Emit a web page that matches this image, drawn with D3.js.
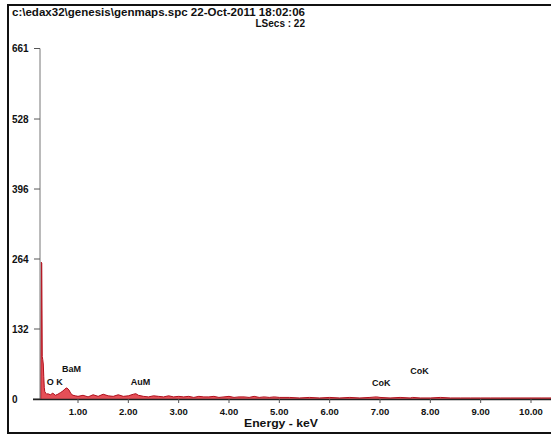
<!DOCTYPE html>
<html>
<head>
<meta charset="utf-8">
<script src="https://cdn.jsdelivr.net/npm/d3@7"></script>
<style>
  body { margin: 0; background: #fff; }
  svg { display: block; }
  text { font-family: 'Liberation Sans', Arial, sans-serif; font-weight: bold; fill: #111; }
</style>
</head>
<body>
<div class="chart"></div>
<script>
'use strict'

const width = 551
const height = 436

// spectrum (keV, counts)
const energies = [
  0.26, 0.27, 0.28, 0.29, 0.30, 0.31, 0.32, 0.33, 0.34, 0.36, 0.38, 0.40, 0.45, 0.50, 0.55,
  0.60, 0.65, 0.70, 0.74, 0.78, 0.82, 0.86, 0.90, 0.95, 1.00, 1.10, 1.20, 1.30, 1.40, 1.50,
  1.60, 1.70, 1.80, 1.90, 2.00, 2.10, 2.15, 2.20, 2.30, 2.40, 2.50, 2.60, 2.70, 2.80, 2.90,
  3.00, 3.10, 3.20, 3.30, 3.40, 3.50, 3.60, 3.70, 3.80, 3.90, 4.00, 4.10, 4.20, 4.30, 4.40,
  4.50, 4.60, 4.70, 4.80, 4.90, 5.00, 5.20, 5.40, 5.60, 5.80, 6.00, 6.20, 6.40, 6.60, 6.80,
  6.93, 7.00, 7.20, 7.40, 7.60, 7.65, 7.80, 8.00, 8.20, 8.40, 8.60, 8.80, 9.00, 9.20, 9.40,
  9.60, 9.80, 10.00, 10.20, 10.40
]
const counts = [
  0, 258, 256, 80, 74, 66, 42, 22, 14, 11, 9, 10, 8, 11, 7,
  9, 12, 15, 19, 21, 17, 10, 7, 6, 5, 7, 4, 8, 5, 9,
  6, 5, 8, 5, 6, 9, 10, 7, 5, 4, 6, 5, 4, 6, 4,
  5, 4, 5, 3, 5, 4, 4, 5, 3, 4, 5, 3, 4, 4, 3,
  5, 3, 4, 3, 4, 3, 3, 2, 3, 2, 3, 2, 3, 2, 3,
  4, 3, 2, 3, 2, 3, 2, 2, 3, 2, 2, 2, 2, 2, 2,
  2, 2, 2, 2, 2
]

const yTicks = [0, 132, 264, 396, 528, 661]
const xTicks = [1, 2, 3, 4, 5, 6, 7, 8, 9, 10]

// peak labels: energy where the label starts, count at its baseline
const peakNames = ['O K', 'BaM', 'AuM', 'CoK', 'CoK']
const peakEnergies = [0.38, 0.68, 2.05, 6.84, 7.60]
const peakCounts = [26, 50, 26, 24, 47]

const titleLine = 'c:\\edax32\\genesis\\genmaps.spc  22-Oct-2011 18:02:06'
const subLine = 'LSecs : 22'

const x = d3.scaleLinear()
    .domain([1, 10])
    .range([78, 531])
const y = d3.scaleLinear()
    .domain([0, 661])
    .range([399, 48.5])

const svg = d3.select('.chart').append('svg')
    .attr('width', width)
    .attr('height', height)

// frame
svg.append('path')
    .attr('d', 'M551,5 H8 V433 H551')
    .style('fill', 'none')
    .style('stroke', '#111')
    .style('stroke-width', 2)

svg.append('text')
    .attr('x', 12)
    .attr('y', 16)
    .attr('textLength', 293)
    .attr('lengthAdjust', 'spacingAndGlyphs')
    .style('font-size', '10px')
    .text(titleLine)
svg.append('text')
    .attr('x', 305)
    .attr('y', 27)
    .style('text-anchor', 'end')
    .style('font-size', '10px')
    .text(subLine)

const data = energies.map((e, i) => ({ e, c: counts[i] }))

// spectrum
const area = d3.area()
    .x(d => x(d.e))
    .y0(y(0))
    .y1(d => y(d.c))
svg.append('path')
    .datum(data)
    .attr('d', area)
    .style('fill', '#e0303a')
    .style('opacity', 0.85)

const line = d3.line()
    .x(d => x(d.e))
    .y(d => y(d.c))
svg.append('path')
    .datum(data)
    .attr('d', line)
    .style('fill', 'none')
    .style('stroke', '#b0101c')
    .style('stroke-width', 1)

// y axis
svg.append('line')
    .attr('x1', 40).attr('x2', 40)
    .attr('y1', y(661)).attr('y2', y(0))
    .style('stroke', '#777')
    .style('stroke-width', 1)

const yt = svg.selectAll('.ytick')
    .data(yTicks)
  .enter().append('g')
    .attr('class', 'ytick')
    .attr('transform', d => 'translate(0,' + y(d) + ')')
yt.append('line')
    .attr('x1', d => d === 0 ? 33 : 34)
    .attr('x2', 40)
    .style('stroke', '#555')
yt.append('text')
    .attr('x', 12)
    .attr('dy', 3.5)
    .style('font-size', '10px')
    .text(d => d)

// x axis
svg.append('line')
    .attr('x1', 33).attr('x2', 551)
    .attr('y1', y(0) + 0.5).attr('y2', y(0) + 0.5)
    .style('stroke', '#222')
    .style('stroke-width', 1.5)

const xt = svg.selectAll('.xtick')
    .data(xTicks)
  .enter().append('g')
    .attr('class', 'xtick')
    .attr('transform', d => 'translate(' + x(d) + ',' + y(0) + ')')
xt.append('line')
    .attr('y1', 0)
    .attr('y2', 4)
    .style('stroke', '#555')
xt.append('text')
    .attr('y', 16)
    .style('text-anchor', 'middle')
    .style('font-size', '9.5px')
    .text(d => d3.format('.2f')(d))

svg.append('text')
    .attr('x', 281)
    .attr('y', 427)
    .attr('textLength', 74)
    .attr('lengthAdjust', 'spacingAndGlyphs')
    .style('text-anchor', 'middle')
    .style('font-size', '11px')
    .text('Energy - keV')

// peak labels
svg.selectAll('.peak')
    .data(peakNames)
  .enter().append('text')
    .attr('class', 'peak')
    .attr('x', (d, i) => x(peakEnergies[i]))
    .attr('y', (d, i) => y(peakCounts[i]))
    .style('font-size', '9px')
    .text(d => d)
</script>
</body>
</html>
